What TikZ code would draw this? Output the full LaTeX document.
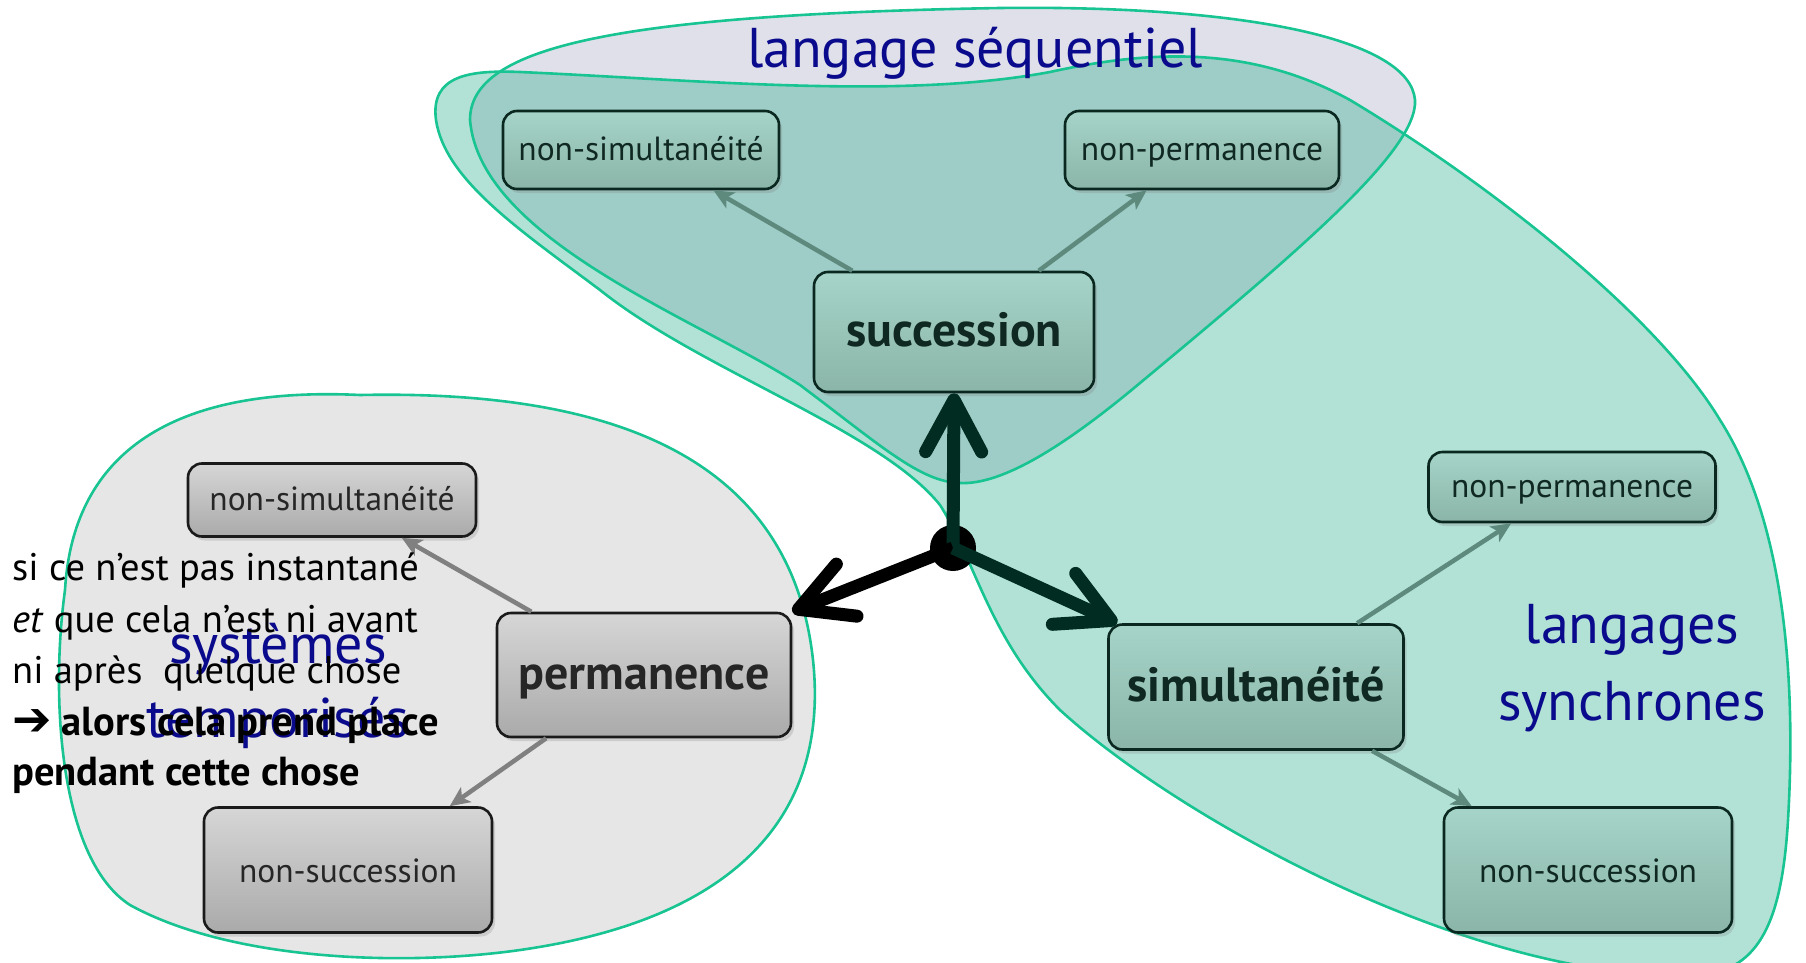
\documentclass[tikz,border=0pt]{standalone}
\usepackage{fontspec}
\setmainfont{PT Sans}
\newfontfamily\symfont{DejaVu Sans}
\usetikzlibrary{arrows.meta,shadows,calc}
\definecolor{lavfill}{RGB}{224,224,235}
\definecolor{tealfill}{RGB}{178,226,214}
\definecolor{overfill}{RGB}{158,204,198}
\definecolor{grayfill}{RGB}{230,230,230}
\definecolor{blobline}{RGB}{24,196,146}
\definecolor{tealtop}{RGB}{166,212,200}
\definecolor{tealbot}{RGB}{138,181,168}
\definecolor{tealborder}{RGB}{10,40,32}
\definecolor{tealtext}{RGB}{16,40,34}
\definecolor{graytop}{RGB}{214,214,214}
\definecolor{graybot}{RGB}{170,170,170}
\definecolor{grayborder}{RGB}{26,26,26}
\definecolor{tealarrow}{RGB}{94,138,126}
\definecolor{grayarrow}{RGB}{128,128,128}
\definecolor{darkgreen}{RGB}{0,44,34}
\definecolor{navy}{RGB}{10,10,140}
\newcommand\tealshape{(436,120) .. controls (430,75) and (470,70) .. (520,72)
  .. controls (700,80) and (900,100) .. (1050,72)
  .. controls (1150,50) and (1250,45) .. (1350,100)
  .. controls (1500,190) and (1660,320) .. (1720,420)
  .. controls (1790,530) and (1795,700) .. (1788,820)
  .. controls (1782,920) and (1760,970) .. (1700,975)
  .. controls (1480,985) and (1180,820) .. (1060,710)
  .. controls (990,640) and (975,560) .. (940,505)
  .. controls (880,430) and (700,370) .. (600,290)
  .. controls (520,230) and (445,180) .. (436,120) -- cycle}
\newcommand\lavshape{(470,120) .. controls (470,50) and (600,15) .. (1000,8)
  .. controls (1250,5) and (1410,40) .. (1415,100)
  .. controls (1418,150) and (1300,250) .. (1140,383)
  .. controls (1060,450) and (1000,485) .. (960,483)
  .. controls (920,482) and (880,445) .. (800,385)
  .. controls (700,320) and (480,240) .. (470,120) -- cycle}
\newcommand\grayshape{(360,395) .. controls (600,390) and (790,450) .. (813,660)
  .. controls (830,820) and (730,920) .. (520,950)
  .. controls (400,967) and (230,960) .. (130,905)
  .. controls (60,860) and (50,700) .. (65,590)
  .. controls (72,470) and (150,385) .. (360,395) -- cycle}
\begin{document}
\begin{tikzpicture}[x=1pt,y=-1pt,
  boxbase/.style={line width=2.6pt, rounded corners=14pt, inner sep=0pt,
    text depth=0pt,
    drop shadow={opacity=0.25,shadow xshift=3pt,shadow yshift=-4pt}},
  tealbox/.style={boxbase, draw=tealborder, top color=tealtop, bottom color=tealbot, text=tealtext},
  graybox/.style={boxbase, draw=grayborder, top color=graytop, bottom color=graybot, text=black!85},
  smalltxt/.style={font=\fontsize{33.5}{40}\selectfont, text height=20pt},
  tallsmall/.style={font=\fontsize{33.5}{40}\selectfont, text height=24pt},
  boldtxt/.style={font=\fontsize{48}{56}\selectfont\bfseries, text height=28pt},
  bloblabel/.style={text=navy, font=\fontsize{56}{64}\selectfont, anchor=base},
  lefttxt/.style={anchor=base west, font=\fontsize{38.5}{46}\selectfont, inner sep=0pt},
  leftbold/.style={anchor=base west, font=\fontsize{40.5}{48}\selectfont\bfseries, inner sep=0pt},
  thinarrow/.style={line width=4.5pt, -{Stealth[length=20pt,width=18pt,inset=5pt]}},
  bigarrow/.style={line width=13pt, -{Straight Barb[length=52pt,width=56pt,round]}}
]
\useasboundingbox (0,0) rectangle (1806,963);
\clip (0,0) rectangle (1806,963);
% blobs
\fill[tealfill] \tealshape;
\fill[lavfill] \lavshape;
\begin{scope}
  \clip \tealshape;
  \fill[overfill] \lavshape;
\end{scope}
\fill[grayfill] \grayshape;
\draw[blobline, line width=2.6pt] \tealshape;
\draw[blobline, line width=2.6pt] \lavshape;
\draw[blobline, line width=2.6pt] \grayshape;
% labels
\node[bloblabel] (lseq) at (975,68) {langage séquentiel};
\node[bloblabel] (lsync1) at (1632,643) {langages};
\node[bloblabel] (lsync2) at (1632,720) {synchrones};
\node[bloblabel] (lsys1) at (278,663) {systèmes};
\node[bloblabel] (lsys2) at (278,737) {temporisés};
% nodes
\node[tealbox, smalltxt, minimum width=276pt, minimum height=78pt] (ns1) at (641,150) {non-simultanéité};
\node[tealbox, smalltxt, minimum width=274pt, minimum height=78pt] (np1) at (1202,150) {non-permanence};
\node[tealbox, boldtxt, minimum width=280pt, minimum height=120pt] (succ) at (954,332) {succession};
\node[graybox, boldtxt, minimum width=294pt, minimum height=124pt] (perm) at (644,675) {permanence};
\node[graybox, smalltxt, minimum width=288pt, minimum height=73pt] (ns2) at (332,500) {non-simultanéité};
\node[graybox, tallsmall, minimum width=288pt, minimum height=125pt] (nsu2) at (348,870) {non-succession};
\node[tealbox, boldtxt, minimum width=295pt, minimum height=125pt] (simu) at (1256,687) {simultanéité};
\node[tealbox, smalltxt, minimum width=287pt, minimum height=70pt] (np3) at (1572,487) {non-permanence};
\node[tealbox, tallsmall, minimum width=288pt, minimum height=125pt] (nsu3) at (1588,870) {non-succession};
% thin arrows
\draw[thinarrow, tealarrow] ($(succ.north west)!0.14!(succ.north east)$) -- ($(ns1.south west)!0.76!(ns1.south east)$);
\draw[thinarrow, tealarrow] ($(succ.north west)!0.80!(succ.north east)$) -- ($(np1.south west)!0.30!(np1.south east)$);
\draw[thinarrow, grayarrow] ($(perm.north west)!0.12!(perm.north east)$) -- ($(ns2.south west)!0.74!(ns2.south east)$);
\draw[thinarrow, grayarrow] ($(perm.south west)!0.17!(perm.south east)$) -- ($(nsu2.north west)!0.85!(nsu2.north east)$);
\draw[thinarrow, tealarrow] ($(simu.north west)!0.84!(simu.north east)$) -- ($(np3.south west)!0.29!(np3.south east)$);
\draw[thinarrow, tealarrow] ($(simu.south west)!0.89!(simu.south east)$) -- ($(nsu3.north west)!0.10!(nsu3.north east)$);
% hub and big arrows
\node[circle, fill=black, minimum size=46pt, inner sep=0pt] (hub) at (953,548) {};
\draw[bigarrow, darkgreen] (hub.center) -- (succ.south);
\draw[bigarrow, black] (hub.center) -- (perm.north east);
\draw[bigarrow, darkgreen] (hub.center) -- ($(simu.north west)+(10,0)$);
% left text
\node[lefttxt] (t1) at (12,580) {si ce n’est pas instantané};
\node[lefttxt] (t2) at (12,632) {\textit{et} que cela n’est ni avant};
\node[lefttxt] (t3) at (12,683) {ni après\ \ quelque chose};
\node[leftbold] (t4) at (12,735) {{\symfont\fontsize{47}{48}\selectfont ➔} alors cela prend place};
\node[leftbold] (t5) at (12,785) {pendant cette chose};
\end{tikzpicture}
\end{document}
